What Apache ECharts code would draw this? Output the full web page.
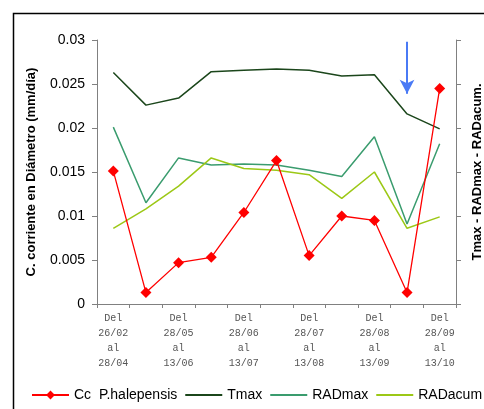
<!DOCTYPE html>
<html>
<head>
<meta charset="utf-8">
<script src="https://cdn.jsdelivr.net/npm/echarts@6/dist/echarts.min.js"></script>
<style>
  html, body { margin: 0; padding: 0; background: #fff; }
  #chart { width: 484px; height: 409px; }
</style>
</head>
<body>
<div id="chart"></div>
<script>
// Sampling periods (every other one is labelled on the axis)
const periods = [
  'Del\n26/02\nal\n28/04',
  'Del\n28/04\nal\n28/05',
  'Del\n28/05\nal\n13/06',
  'Del\n13/06\nal\n28/06',
  'Del\n28/06\nal\n13/07',
  'Del\n13/07\nal\n28/07',
  'Del\n28/07\nal\n13/08',
  'Del\n13/08\nal\n28/08',
  'Del\n28/08\nal\n13/09',
  'Del\n13/09\nal\n28/09',
  'Del\n28/09\nal\n13/10'
];

// Current diameter growth (mm/day), left axis
const ccHalepensis = [0.0151, 0.0013, 0.0047, 0.0053, 0.0104, 0.0163, 0.0055, 0.0100, 0.0095, 0.0013, 0.0245];

// Climate variables, right axis
const tmax    = [26.3, 22.6, 23.4, 26.4, 26.55, 26.7, 26.55, 25.9, 26.05, 21.6, 19.9];
const radMax  = [20.1, 11.5, 16.6, 15.8, 15.9, 15.8, 15.2, 14.5, 19.0, 9.1, 18.2];
const radAcum = [8.6, 10.8, 13.4, 16.6, 15.4, 15.2, 14.7, 12.0, 15.0, 8.6, 9.9];

// Arrow marking the period of interest (from / to, left-axis units)
const arrowPeriod = 9;
const arrowFrom = 0.0298;
const arrowTo = 0.0239;

const chart = echarts.init(document.getElementById('chart'), null, { renderer: 'canvas' });

const font = 'Liberation Sans, Arial, sans-serif';
const lineOnly = { opacity: 0 };

chart.setOption({
  animation: false,
  backgroundColor: '#fff',
  textStyle: { fontFamily: font },
  graphic: [{
    type: 'rect',
    left: 11, top: 11,
    shape: { width: 520, height: 440 },
    style: { fill: 'none', stroke: '#000', lineWidth: 1.5 },
    silent: true
  }],
  grid: { left: 97, right: 28, top: 40, bottom: 105, containLabel: false, outerBoundsMode: 'none' },
  legend: {
    left: 31, top: 388,
    width: 600,
    padding: 0,
    itemWidth: 37, itemHeight: 11, itemGap: 7,
    textStyle: { fontFamily: font, fontSize: 14, color: '#000' },
    data: [
      { name: 'Cc  P.halepensis' },
      { name: 'Tmax', itemStyle: lineOnly },
      { name: 'RADmax', itemStyle: lineOnly },
      { name: 'RADacum', itemStyle: lineOnly }
    ]
  },
  xAxis: {
    type: 'category',
    data: periods,
    boundaryGap: true,
    axisLine: { lineStyle: { color: '#808080', width: 1 } },
    axisTick: { show: true, interval: 0, length: 4, lineStyle: { color: '#808080' } },
    axisLabel: {
      interval: 1,
      margin: 7,
      fontFamily: 'Liberation Mono, Courier New, monospace',
      fontSize: 10,
      lineHeight: 15,
      color: '#555'
    },
    splitLine: { show: false }
  },
  yAxis: [{
    type: 'value',
    min: 0, max: 0.03, interval: 0.005,
    position: 'left',
    name: 'C. corriente en Diámetro (mm/día)',
    nameLocation: 'middle',
    nameGap: 59,
    nameTextStyle: { fontFamily: font, fontSize: 13, fontWeight: 'bold', color: '#000' },
    axisLine: { show: true, lineStyle: { color: '#808080', width: 1 } },
    axisTick: { show: true, length: 5, lineStyle: { color: '#808080' } },
    axisLabel: {
      margin: 12,
      fontFamily: font, fontSize: 14, color: '#000',
      formatter: v => String(+v.toFixed(3))
    },
    splitLine: { show: false }
  }, {
    type: 'value',
    min: 0, max: 30, interval: 5,
    position: 'right',
    name: 'Tmax - RADmax - RADacum.',
    nameLocation: 'middle',
    nameGap: 15,
    nameTextStyle: { fontFamily: font, fontSize: 13, fontWeight: 'bold', color: '#000' },
    axisLine: { show: true, lineStyle: { color: '#808080', width: 1 } },
    axisTick: { show: true, length: 5, lineStyle: { color: '#808080' } },
    axisLabel: { show: false },
    splitLine: { show: false }
  }],
  series: [{
    name: 'Tmax',
    type: 'line',
    yAxisIndex: 1,
    data: tmax,
    symbol: 'none',
    lineStyle: { color: '#1b461b', width: 1.5 },
    itemStyle: { color: '#1b461b' },
    z: 2
  }, {
    name: 'RADmax',
    type: 'line',
    yAxisIndex: 1,
    data: radMax,
    symbol: 'none',
    lineStyle: { color: '#3a9c6e', width: 1.5 },
    itemStyle: { color: '#3a9c6e' },
    z: 2
  }, {
    name: 'RADacum',
    type: 'line',
    yAxisIndex: 1,
    data: radAcum,
    symbol: 'none',
    lineStyle: { color: '#9cc816', width: 1.5 },
    itemStyle: { color: '#9cc816' },
    z: 2
  }, {
    name: 'Cc  P.halepensis',
    type: 'line',
    yAxisIndex: 0,
    data: ccHalepensis,
    symbol: 'diamond',
    symbolSize: 11,
    lineStyle: { color: '#ff0000', width: 1.3 },
    itemStyle: { color: '#ff0000' },
    z: 3,
    markLine: {
      silent: true,
      symbol: ['none', 'arrow'],
      symbolSize: [11, 14],
      label: { show: false },
      lineStyle: { color: '#4a7af5', width: 2, type: 'solid' },
      emphasis: { disabled: true },
      data: [[
        { coord: [arrowPeriod, arrowFrom] },
        { coord: [arrowPeriod, arrowTo] }
      ]]
    }
  }]
});
</script>
</body>
</html>
